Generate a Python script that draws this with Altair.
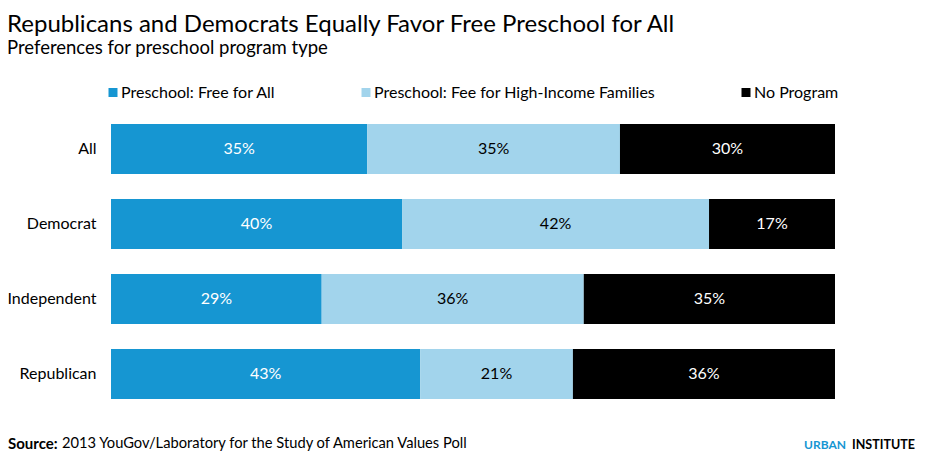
import altair as alt
import pandas as pd

# survey groups (rows) and program types (stack order); shares in percent
groups = ["All", "Democrat", "Independent", "Republican"]
programs = ["Preschool: Free for All", "Preschool: Fee for High-Income Families", "No Program"]
free_for_all = [35.4, 40.2, 29.1, 42.7]
fee_high_income = [34.9, 42.4, 36.2, 21.1]
no_program = [29.7, 17.4, 34.7, 36.2]

colors = ["#1696d2", "#a2d4ec", "#000000"]
label_colors = ["#ffffff", "#000000", "#ffffff"]

rows = []
for i, g in enumerate(groups):
    for k, (p, vals) in enumerate(zip(programs, [free_for_all, fee_high_income, no_program])):
        rows.append({"group": g, "program": p, "order": k, "value": vals[i],
                     "label": f"{round(vals[i])}%", "tcolor": label_colors[k]})
df = pd.DataFrame(rows)

base = (
    alt.Chart(df)
    .transform_stack(stack="value", groupby=["group"], as_=["v1", "v2"],
                     offset="normalize", sort=[alt.SortField("order", "ascending")])
    .transform_calculate(mid="(datum.v1 + datum.v2) / 2")
)

y_enc = alt.Y("group:N", sort=groups, title=None,
              scale=alt.Scale(paddingInner=1 / 3, paddingOuter=1 / 6),
              axis=alt.Axis(domain=False, ticks=False, labelPadding=15,
                            labelFontSize=16, labelColor="#000000"))

bars = base.mark_bar().encode(
    x=alt.X("v1:Q", axis=None, scale=alt.Scale(domain=[0, 1])),
    x2="v2:Q",
    y=y_enc,
    color=alt.Color(
        "program:N",
        sort=programs,
        scale=alt.Scale(domain=programs, range=colors),
        legend=alt.Legend(title=None, orient="none", legendX=-6, legendY=-27,
                          direction="horizontal",
                          symbolType="square", symbolSize=81, symbolStrokeWidth=0,
                          labelFontSize=16, labelColor="#000000", labelLimit=400,
                          columnPadding=82, labelOffset=0),
    ),
)

labels = base.mark_text(fontSize=16).encode(
    x=alt.X("mid:Q", scale=alt.Scale(domain=[0, 1])),
    y=alt.Y("group:N", sort=groups),
    text="label:N",
    color=alt.Color("tcolor:N", scale=None),
)

note = alt.Chart(pd.DataFrame({"a": [0]}))
source_bold = note.mark_text(align="left", fontSize=15, fontWeight="bold", color="#000000").encode(
    x=alt.value(-103), y=alt.value(332), text=alt.value("Source:"))
source_rest = note.mark_text(align="left", fontSize=14.7, color="#000000").encode(
    x=alt.value(-49), y=alt.value(332),
    text=alt.value("2013 YouGov/Laboratory for the Study of American Values Poll"))
urban = note.mark_text(align="right", fontSize=12, fontWeight="bold", color="#1696d2").encode(
    x=alt.value(735), y=alt.value(333.5), text=alt.value("URBAN"))
institute = note.mark_text(align="left", fontSize=12.5, fontWeight="bold", color="#000000").encode(
    x=alt.value(741), y=alt.value(333.5), text=alt.value("INSTITUTE"))

chart = (
    alt.layer(bars, labels, source_bold, source_rest, urban, institute)
    .properties(
        width=724,
        height=300,
        autosize=alt.AutoSizeParams(type="none"),
        padding={"left": 103, "right": 89, "top": 103.5, "bottom": 40.5},
        title=alt.Title(
            "Republicans and Democrats Equally Favor Free Preschool for All",
            subtitle="Preferences for preschool program type",
            anchor="start", frame="bounds", fontSize=24, fontWeight="normal",
            subtitleFontSize=18.5, subtitleColor="#000000", color="#000000",
            subtitlePadding=2, offset=27,
        ),
    )
    .configure(font="Lato")
    .configure_view(stroke=None)
)

chart.save("out.html", embed_options={"renderer": "svg", "actions": False})
